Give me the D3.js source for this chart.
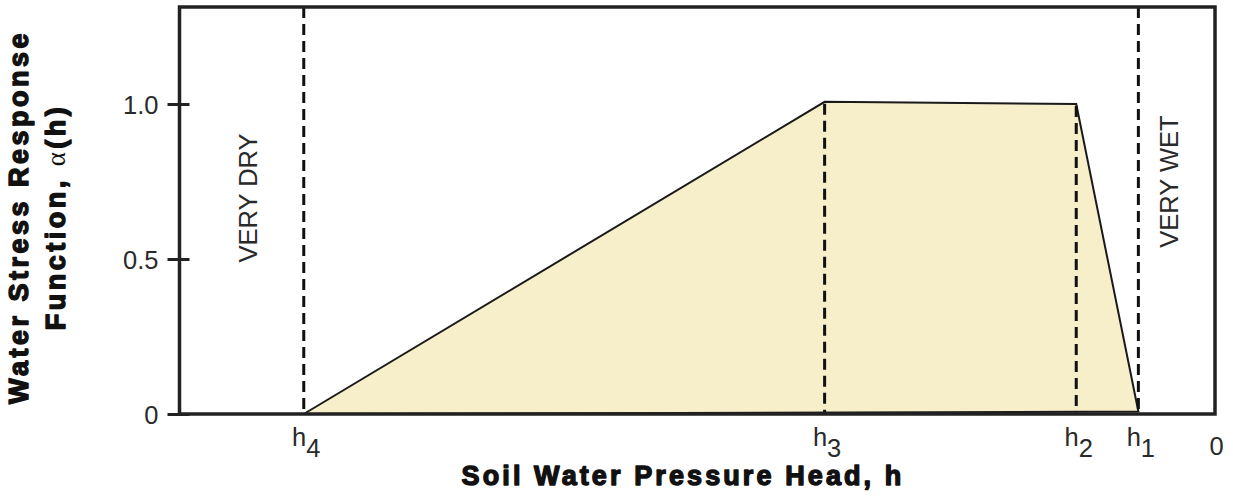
<!DOCTYPE html>
<html>
<head>
<meta charset="utf-8">
<script src="https://cdn.jsdelivr.net/npm/d3@7"></script>
<style>
  html, body { margin: 0; padding: 0; background: #fff; }
  svg { display: block; }
</style>
</head>
<body>
<svg id="chart" width="1233" height="501"></svg>
<script>
// Feddes-type water stress response function alpha(h)
const stageNames = ["h4", "h3", "h2", "h1"];
const stageHeads = [-88, -37.7, -13.4, -7.4];   // pressure head (relative units)
const stageAlpha = [0, 1.007, 1.0, 0.008];      // alpha(h) at each stage

const xTickValues = [-88, -37.7, -13.4, -7.4, 0];
const xTickBase = ["h", "h", "h", "h", "0"];
const xTickSub = ["4", "3", "2", "1", ""];

const yTickValues = [0, 0.5, 1.0];
const yTickLabels = ["0", "0.5", "1.0"];

const zoneLabels = ["VERY DRY", "VERY WET"];
const zoneHeads = [-93.4, -4.4];
const zoneAlpha = [0.697, 0.75];

const svg = d3.select("#chart");
const box = { left: 179.5, right: 1215, top: 7, bottom: 414 };

const x = d3.scaleLinear().domain([-100, 0]).range([box.left, box.right]);
const y = d3.scaleLinear().domain([0, 1.313]).range([box.bottom, box.top]);

const ink = "#1a1a1a";
const font = "'Liberation Sans', Arial, sans-serif";

// shaded response polygon
const pts = stageHeads.map((h, i) => [x(h), y(stageAlpha[i])]);
svg.append("path")
  .attr("d", d3.line()(pts) + "Z")
  .attr("fill", "#f7eeca")
  .attr("stroke", ink)
  .attr("stroke-width", 2)
  .attr("stroke-linejoin", "miter");

// dashed guides at the stage heads
svg.append("g").selectAll("line")
  .data(stageHeads)
  .join("line")
  .attr("x1", d => x(d)).attr("x2", d => x(d))
  .attr("y1", (d, i) => stageAlpha[i] > 0.5 ? y(stageAlpha[i]) + 2 : box.top)
  .attr("y2", box.bottom)
  .attr("stroke", "#111")
  .attr("stroke-width", 3)
  .attr("stroke-dasharray", "11,6");

// frame
svg.append("rect")
  .attr("x", box.left).attr("y", box.top)
  .attr("width", box.right - box.left).attr("height", box.bottom - box.top)
  .attr("fill", "none")
  .attr("stroke", "#222")
  .attr("stroke-width", 3.5);

// y axis
const yAxis = svg.append("g")
  .attr("transform", `translate(${box.left},0)`)
  .call(d3.axisLeft(y)
    .tickValues(yTickValues)
    .tickFormat((d, i) => yTickLabels[i])
    .tickSize(12));
yAxis.select(".domain").remove();
yAxis.selectAll(".tick line")
  .attr("x1", 10).attr("x2", -12)
  .attr("stroke", "#222").attr("stroke-width", 3);
yAxis.selectAll(".tick text")
  .attr("x", -21)
  .attr("dy", "0.36em")
  .attr("fill", "#2a2a2a")
  .style("font-family", font)
  .style("font-size", "25.5px");

// x axis with subscripted stage labels
const xAxis = svg.append("g")
  .attr("transform", `translate(0,${box.bottom})`)
  .call(d3.axisBottom(x).tickValues(xTickValues).tickSize(0).tickFormat(""));
xAxis.select(".domain").remove();
xAxis.selectAll(".tick text").remove();
xAxis.selectAll(".tick").each(function (d, i) {
  const t = d3.select(this).append("text")
    .attr("fill", "#2a2a2a")
    .attr("text-anchor", "middle")
    .style("font-family", font)
    .style("font-size", "25.5px");
  if (xTickSub[i]) {
    t.attr("x", 2).attr("y", 32);
    t.append("tspan").text(xTickBase[i]);
    t.append("tspan").attr("dy", 11).text(xTickSub[i]);
  } else {
    t.attr("x", 1).attr("y", 41).text(xTickBase[i]);
  }
});

// zone annotations
svg.append("g").selectAll("text")
  .data(zoneLabels)
  .join("text")
  .attr("transform", (d, i) => `translate(${x(zoneHeads[i])},${y(zoneAlpha[i])}) rotate(-90)`)
  .attr("text-anchor", "middle")
  .attr("dominant-baseline", "central")
  .attr("fill", "#2a2a2a")
  .style("font-family", font)
  .style("font-size", "25.5px")
  .text(d => d);

// axis titles
const titleStyle = sel => sel
  .attr("fill", "#111")
  .attr("stroke", "#111")
  .attr("stroke-width", 1.4)
  .attr("stroke-linejoin", "round")
  .style("font-family", font)
  .style("font-weight", "bold")
  .style("font-size", "27px");

svg.append("text")
  .call(titleStyle)
  .attr("x", 683).attr("y", 485)
  .attr("text-anchor", "middle")
  .style("letter-spacing", "3.1px")
  .text("Soil Water Pressure Head, h");

const yTitle = svg.append("g").attr("transform", "translate(0,217) rotate(-90)");
yTitle.append("text")
  .call(titleStyle)
  .attr("x", 0).attr("y", 28)
  .attr("text-anchor", "middle")
  .style("letter-spacing", "3.5px")
  .text("Water Stress Response");
const l2 = yTitle.append("text")
  .call(titleStyle)
  .attr("x", 0).attr("y", 65)
  .attr("text-anchor", "middle")
  .style("letter-spacing", "3.5px");
l2.append("tspan").text("Function, ");
l2.append("tspan")
  .style("font-family", "'Liberation Serif', 'Times New Roman', serif")
  .style("font-weight", "normal")
  .attr("stroke-width", 0)
  .text("α");
l2.append("tspan").text("(h)");
</script>
</body>
</html>
